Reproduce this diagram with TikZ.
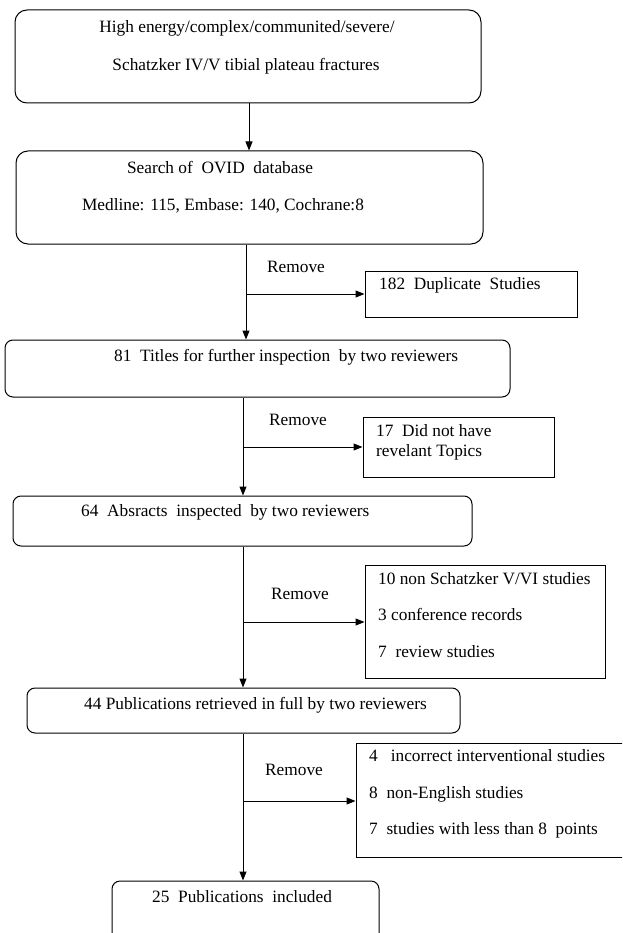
\documentclass[tikz,border=0pt]{standalone}
\usepackage{fontspec}
\setmainfont{Liberation Serif}
\usetikzlibrary{arrows.meta,fit}
\begin{document}
\begin{tikzpicture}[x=1pt,y=-1pt,
  every node/.style={font=\fontsize{17.3}{20}\selectfont},
  rbox/.style={draw,line width=1pt,rounded corners=#1,inner sep=0pt},
  rbox/.default=8pt,
  sbox/.style={draw,line width=1pt,inner sep=0pt},
  txt/.style={inner sep=0pt,text height=0.7em,text depth=0.22em,anchor=west},
  ctxt/.style={inner sep=0pt,text height=0.7em,text depth=0.22em,anchor=center},
  arr/.style={line width=1pt,-{Triangle[length=9pt,width=7pt]}},
  ln/.style={line width=1pt}]
\useasboundingbox (0,0) rectangle (622,933);
\clip (0,0) rectangle (622,933);
\fill[white] (0,0) rectangle (622,933);
% main boxes
\node[rbox=12pt,fit={(15,10)(481,103)}] (b1) {};
\node[rbox=12pt,fit={(16,151)(483,244)}] (b2) {};
\node[rbox,fit={(5,340)(510,397)}] (b3) {};
\node[rbox,fit={(13,496)(472,546)}] (b4) {};
\node[rbox,fit={(27,688)(460,733)}] (b5) {};
\node[rbox,fit={(112,881)(379,950)}] (b6) {};
% side boxes
\node[sbox,fit={(365,271)(577,317)}] (s1) {};
\node[sbox,fit={(363,417)(554,477)}] (s2) {};
\node[sbox,fit={(365,565)(605,678)}] (s3) {};
\node[sbox,fit={(356,743)(650,857)}] (s4) {};
% texts
\node[ctxt] (t1a) at (247,30) {High energy/complex/communited/severe/};
\node[ctxt] (t1b) at (246,68) {Schatzker IV/V tibial plateau fractures};
\node[ctxt] (t2a) at (220,171) {Search of\ \ OVID\ \ database};
\node[ctxt] (t2b) at (223,208) {Medline: 115, Embase: 140, Cochrane:8};
\node[txt] (t3) at (114,359) {81\ \ Titles for further inspection\ \ by two reviewers};
\node[txt] (t4) at (81,514) {64\ \ Absracts\ \ inspected\ \ by two reviewers};
\node[txt] (t5) at (84,707) {44 Publications retrieved in full by two reviewers};
\node[txt] (t6) at (152,900) {25\ \ Publications\ \ included};
\node[txt] (u1) at (379,287) {182\ \ Duplicate\ \ Studies};
\node[txt] (u2a) at (376,434) {17\ \ Did not have};
\node[txt] (u2b) at (376,454) {revelant Topics};
\node[txt] (u3a) at (378,582) {10 non Schatzker V/VI studies};
\node[txt] (u3b) at (378,618) {3 conference records};
\node[txt] (u3c) at (378,655) {7\ \ review studies};
\node[txt] (u4a) at (369,759) {4\ \ \ incorrect interventional studies};
\node[txt] (u4b) at (369,796) {8\ \ non-English studies};
\node[txt] (u4c) at (369,832) {7\ \ studies with less than 8\ \ points};
\node[txt] (r1) at (267,270) {Remove};
\node[txt] (r2) at (269,423) {Remove};
\node[txt] (r3) at (271,597) {Remove};
\node[txt] (r4) at (265,773) {Remove};
% connectors
\coordinate (m1) at (249,0);
\coordinate (m2) at (246,0);
\coordinate (m3) at (243,0);
\draw[arr] (b1.south -| m1) -- (b2.north -| m1);
\draw[arr] (b2.south -| m2) -- (b3.north -| m2);
\draw[arr] (b3.south -| m3) -- (b4.north -| m3);
\draw[arr] (b4.south -| m3) -- (b5.north -| m3);
\draw[arr] (b5.south -| m3) -- (b6.north -| m3);
\coordinate (j1) at (246,294);
\coordinate (j2) at (243,447);
\coordinate (j3) at (243,622);
\coordinate (j4) at (243,801);
\draw[arr] (j1) -- (s1.west |- j1);
\draw[arr] (j2) -- (s2.west |- j2);
\draw[arr] (j3) -- (s3.west |- j3);
\draw[arr] (j4) -- (s4.west |- j4);
\end{tikzpicture}
\end{document}
